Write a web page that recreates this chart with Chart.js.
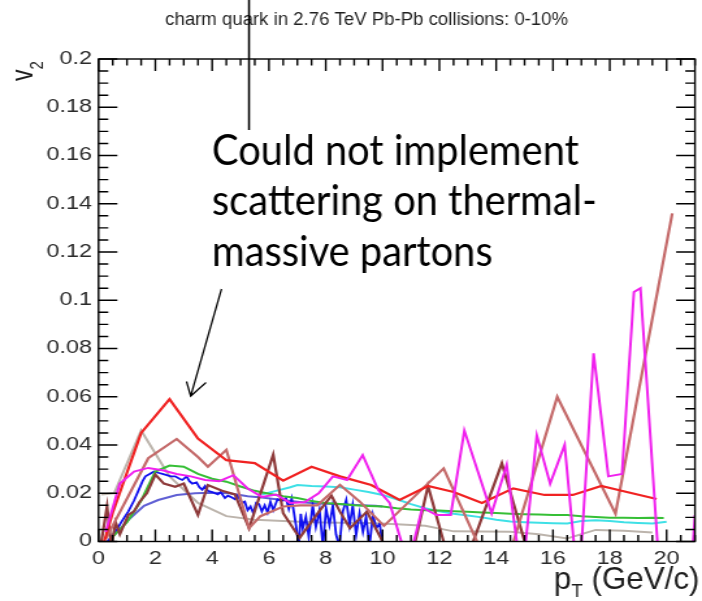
<!DOCTYPE html>
<html>
<head>
<meta charset="utf-8">
<script src="https://cdn.jsdelivr.net/npm/chart.js@4.4.0/dist/chart.umd.min.js"></script>
<style>
  html, body { margin: 0; padding: 0; background: #fff; overflow: hidden; }
  #v2chart { display: block; }
</style>
</head>
<body>
<canvas id="v2chart" width="540" height="601" style="width:702px;height:601px"></canvas>
<script>
// the original picture is a ROOT plot stretched sideways, so the canvas is drawn narrow and widened by css
const SX = 702 / 540;

const chartTitle = 'charm quark in 2.76 TeV Pb-Pb collisions: 0-10%';
const noteLines = ['Could not implement', 'scattering on thermal-', 'massive partons'];

// axis ranges and tick steps
const xRange = [0, 21];
const yRange = [0, 0.2];
const xMajor = 2, xMinor = 0.5;
const yMajor = 0.02, yMinor = 0.005;

// [pT, v2]
const redPts = [[0.2, 0.0], [0.5, 0.012], [1.5, 0.045], [2.5, 0.059], [3.5, 0.0427], [4.5, 0.0337], [5.5, 0.0325],
  [6.5, 0.0252], [7.5, 0.031], [8.5, 0.027], [9.6, 0.0234], [10.6, 0.0172], [11.6, 0.023], [12.5, 0.0205],
  [13.5, 0.016], [14.6, 0.022], [15.7, 0.0193], [16.7, 0.0193], [17.7, 0.023], [18.6, 0.0205], [19.65, 0.0176]];

const rosyPts = [[0.25, 0.001], [1.75, 0.0345], [2.75, 0.0425], [3.5, 0.035], [3.85, 0.031], [4.5, 0.038],
  [5.3, 0.0055], [5.7, 0.0105], [6.5, 0.0145], [7.1, 0.015], [7.7, 0.015], [8.5, 0.0235], [9.2, 0.0165],
  [10.05, 0.0065], [12.15, 0.0303], [14.1, -0.02], [16.15, 0.060], [18.2, 0.0115], [20.2, 0.136]];

const brownPts = [[0.1, 0.0], [0.3, 0.0145], [0.45, -0.002], [0.6, 0.008], [0.75, 0.003], [1.05, 0.011],
  [1.25, 0.0125], [1.45, 0.0165], [1.7, 0.02], [2.0, 0.0277], [2.3, 0.024], [2.7, 0.0227], [3.0, 0.024],
  [3.5, 0.011], [3.85, 0.0234], [4.35, 0.021], [4.8, 0.0195], [5.3, 0.0055], [6.15, 0.036], [6.5, 0.0117],
  [7.08, 0.0015], [7.8, 0.013], [8.2, 0.019], [8.5, 0.0124], [8.85, 0.0055], [9.45, 0.0124], [10.8, -0.018],
  [11.6, 0.023], [12.6, -0.019], [14.2, 0.0324], [15.2, -0.008]];

const grayPts = [[0.1, 0.0195], [0.55, 0.02], [1.5, 0.046], [2.5, 0.027], [3.5, 0.016], [4.5, 0.0105],
  [5.5, 0.009], [6.5, 0.0085], [7.5, 0.008], [8.5, 0.0078], [9.5, 0.0077], [10.5, 0.0072], [11.5, 0.0065],
  [12.5, 0.0042], [13.5, 0.0041], [14.5, 0.004], [15.5, 0.003], [16.5, 0.0013], [17.5, 0.0048],
  [18.5, 0.0045], [19.5, 0.0037]];

const greenPts = [[0.5, 0.002], [1.0, 0.008], [1.5, 0.017], [2.0, 0.029], [2.5, 0.0315], [3.0, 0.031],
  [3.5, 0.028], [4.0, 0.026], [4.5, 0.0248], [5.0, 0.0228], [5.5, 0.021], [6.0, 0.0198], [6.5, 0.0188],
  [7.0, 0.018], [7.5, 0.0168], [8.0, 0.016], [8.5, 0.0155], [9.0, 0.015], [9.5, 0.0147], [10.0, 0.0145],
  [10.5, 0.0138], [11.0, 0.0133], [11.5, 0.013], [12.0, 0.0128], [12.5, 0.0125], [13.0, 0.0123],
  [13.5, 0.012], [14.0, 0.0118], [14.5, 0.0115], [15.0, 0.0113], [15.5, 0.0112], [16.0, 0.011],
  [16.5, 0.011], [17.0, 0.0105], [17.5, 0.0102], [18.0, 0.0098], [18.5, 0.0098], [19.0, 0.0097],
  [19.5, 0.0098], [19.9, 0.0097]];

const cyanPts = [[5.75, 0.0195], [6.25, 0.021], [6.75, 0.0225], [7.0, 0.0234], [7.5, 0.023], [8.0, 0.0228],
  [8.5, 0.0225], [9.0, 0.0215], [9.5, 0.0205], [10.0, 0.0193], [10.5, 0.0175], [11.0, 0.0155],
  [11.5, 0.0138], [12.0, 0.0125], [12.5, 0.0115], [13.0, 0.0108], [13.5, 0.01], [14.0, 0.009],
  [14.5, 0.0083], [15.0, 0.008], [15.5, 0.0078], [16.0, 0.0076], [16.5, 0.0075], [17.0, 0.0085],
  [17.5, 0.0088], [18.0, 0.0085], [18.5, 0.008], [19.0, 0.0077], [19.5, 0.0075], [20.0, 0.0082]];

const magentaPts = [[0.25, 0.004], [0.75, 0.024], [1.25, 0.029], [1.75, 0.0305], [2.25, 0.0295], [2.75, 0.028],
  [3.25, 0.027], [3.75, 0.0255], [4.25, 0.025], [4.75, 0.0275], [5.25, 0.022], [5.75, 0.0185], [6.25, 0.0195],
  [6.75, 0.016], [7.25, 0.0163], [7.75, 0.02], [8.25, 0.027], [8.75, 0.0255], [9.3, 0.0358], [9.85, 0.0213],
  [10.25, 0.016], [10.9, -0.0094], [11.4, 0.014], [11.9, 0.011], [12.4, 0.011], [12.88, 0.046],
  [13.84, 0.0117], [14.37, 0.0317], [14.9, -0.016], [15.43, 0.044], [15.9, 0.024], [16.41, 0.040],
  [16.9, -0.021], [17.43, 0.078], [17.95, 0.027], [18.43, 0.028], [18.85, 0.1034], [19.08, 0.105],
  [20.3, -0.11], [21.0, 0.011]];

const bluePts = [[0.25, -0.002], [0.45, 0.002], [0.6, 0.004], [0.8, 0.008], [1.05, 0.0125], [1.25, 0.017],
  [1.4, 0.021], [1.55, 0.025], [1.65, 0.027], [1.8, 0.028], [1.95, 0.029], [2.1, 0.0285], [2.25, 0.028],
  [2.4, 0.0275], [2.55, 0.027], [2.7, 0.027], [2.85, 0.026], [2.95, 0.0255], [3.1, 0.027], [3.2, 0.025],
  [3.3, 0.024], [3.45, 0.0245], [3.55, 0.0225], [3.65, 0.0215], [3.75, 0.023], [3.85, 0.021], [4.0, 0.0205],
  [4.1, 0.02], [4.2, 0.0195], [4.3, 0.0205], [4.45, 0.018], [4.55, 0.019], [4.65, 0.0185], [4.8, 0.0175],
  [4.9, 0.019], [5.05, 0.016], [5.15, 0.0165], [5.25, 0.013], [5.35, 0.0145], [5.45, 0.0117], [5.55, 0.016],
  [5.65, 0.0155], [5.75, 0.0125], [5.85, 0.015], [5.95, 0.012], [6.05, 0.0165], [6.15, 0.013], [6.3, 0.0175],
  [6.45, 0.0168], [6.6, 0.018], [6.7, 0.0135], [6.8, 0.0178], [6.95, 0.0068], [7.05, -0.002], [7.12, 0.0115],
  [7.19, 0.0054], [7.3, 0.0103], [7.4, 0.002], [7.54, 0.015], [7.65, 0.006], [7.78, 0.013], [7.9, -0.002],
  [8.01, 0.0137], [8.13, 0.0068], [8.25, 0.015], [8.36, 0.003], [8.48, -0.002], [8.6, 0.0124], [8.72, 0.0172],
  [8.84, 0.0068], [8.95, 0.015], [9.07, 0.0027], [9.19, 0.0117], [9.31, 0.004], [9.42, 0.0103],
  [9.54, -0.002], [9.66, 0.011], [9.78, 0.0055], [9.9, 0.0075], [10.0, -0.002]];

const slatePts = [[0.3, 0.0], [0.75, 0.005], [1.05, 0.009], [1.6, 0.0148], [2.1, 0.0172], [2.75, 0.0193],
  [3.4, 0.02], [4.0, 0.0202], [4.6, 0.02], [5.25, 0.0188], [5.75, 0.0182], [6.25, 0.0175], [6.75, 0.0168],
  [7.25, 0.0162], [7.75, 0.0158], [8.25, 0.0155], [8.75, 0.0153], [9.25, 0.015], [9.75, 0.0148], [10.0, 0.0145]];

function series(pts, color, width) {
    return {
        data: pts.map(p => ({x: p[0], y: p[1]})),
        borderColor: color,
        borderWidth: width,
        pointRadius: 0,
        tension: 0,
        fill: false
    };
}

// font size that makes a run of text parts (subscripts included) fill a given width
function fitRun(ctx, parts, family, baseSize, width) {
    let total = 0;
    parts.forEach(p => {
        ctx.font = (baseSize * p.rel) + 'px ' + family;
        total += ctx.measureText(p.text).width;
    });
    return baseSize * width / total;
}

// frame with inward ticks, title, axis titles and the slide annotation
const decorations = {
    id: 'decorations',
    afterDraw(chart) {
        const {ctx, chartArea: a, scales: {x, y}} = chart;

        ctx.save();
        ctx.strokeStyle = '#000';
        ctx.lineWidth = 1.4;
        ctx.strokeRect(a.left, a.top, a.right - a.left, a.bottom - a.top);
        ctx.beginPath();
        const nX = Math.round((xRange[1] - xRange[0]) / xMinor);
        const perMajorX = Math.round(xMajor / xMinor);
        for (let i = 0; i <= nX; i++) {
            const px = x.getPixelForValue(xRange[0] + i * xMinor);
            const len = i % perMajorX === 0 ? 12 : 6.5;
            ctx.moveTo(px, a.bottom); ctx.lineTo(px, a.bottom - len);
            ctx.moveTo(px, a.top); ctx.lineTo(px, a.top + len);
        }
        const nY = Math.round((yRange[1] - yRange[0]) / yMinor);
        const perMajorY = Math.round(yMajor / yMinor);
        for (let i = 0; i <= nY; i++) {
            const py = y.getPixelForValue(yRange[0] + i * yMinor);
            const len = i % perMajorY === 0 ? 14.5 : 7.5;
            ctx.moveTo(a.left, py); ctx.lineTo(a.left + len, py);
            ctx.moveTo(a.right, py); ctx.lineTo(a.right - len, py);
        }
        ctx.stroke();
        ctx.restore();

        // title, a bit taller than its stretched width suggests
        ctx.save();
        ctx.fillStyle = '#1e1e1e';
        ctx.textBaseline = 'middle';
        ctx.textAlign = 'center';
        ctx.font = '15px "Liberation Sans"';
        const tw = ctx.measureText(chartTitle).width;
        ctx.font = (15 * 310 / tw).toFixed(2) + 'px "Liberation Sans"';
        ctx.translate(282, 20);
        ctx.scale(1, 1.3);
        ctx.fillText(chartTitle, 0, 0);
        ctx.restore();

        // x axis title: p_T (GeV/c), fitted to the space it has in the picture
        ctx.save();
        ctx.fillStyle = '#1e1e1e';
        ctx.textAlign = 'left';
        ctx.textBaseline = 'alphabetic';
        const fam = '"Liberation Sans"';
        const xParts = [{text: 'p', rel: 1, dy: 0}, {text: 'T', rel: 0.6, dy: 6}, {text: ' (GeV/c)', rel: 1, dy: 0}];
        const size = fitRun(ctx, xParts, fam, 26, 112);
        ctx.translate(426, 589);
        ctx.scale(1, 1.3);
        let xt = 0;
        xParts.forEach(p => {
            ctx.font = (size * p.rel).toFixed(2) + 'px ' + fam;
            ctx.fillText(p.text, xt, p.dy);
            xt += ctx.measureText(p.text).width;
        });
        ctx.restore();

        // y axis title: v_2, rotated
        ctx.save();
        ctx.fillStyle = '#1e1e1e';
        ctx.textAlign = 'left';
        ctx.textBaseline = 'alphabetic';
        ctx.translate(24.5, 81);
        ctx.rotate(-Math.PI / 2);
        ctx.font = '23px "Liberation Sans"';
        ctx.fillText('v', 0, 0);
        const vw = ctx.measureText('v').width;
        ctx.font = '15px "Liberation Sans"';
        ctx.fillText('2', vw, 8);
        ctx.restore();

        // overlay added on the slide: not stretched, so work in screen pixels
        ctx.save();
        ctx.setTransform(1 / SX, 0, 0, 1, 0, 0);
        ctx.strokeStyle = '#000';
        ctx.lineWidth = 2;
        ctx.beginPath();
        ctx.moveTo(249, 0); ctx.lineTo(249, 130);
        ctx.stroke();

        ctx.fillStyle = '#000';
        ctx.textAlign = 'left';
        ctx.textBaseline = 'alphabetic';
        ctx.font = '40px Lato';
        const nw = ctx.measureText(noteLines[1]).width;
        ctx.font = (40 * 385 / nw).toFixed(2) + 'px Lato';
        noteLines.forEach((line, i) => {
            ctx.save();
            ctx.translate(212, [165, 215, 266][i]);
            ctx.scale(1, 1.08);
            ctx.fillText(line, 0, 0);
            ctx.restore();
        });

        ctx.lineWidth = 1.6;
        ctx.beginPath();
        ctx.moveTo(221.5, 289); ctx.lineTo(190.7, 396);
        ctx.moveTo(186.5, 381.5); ctx.lineTo(190.7, 396); ctx.lineTo(206, 382.5);
        ctx.stroke();
        ctx.restore();
    }
};

const tickFont = {family: '"Liberation Sans", Arial, sans-serif', size: 18};

new Chart(document.getElementById('v2chart'), {
    type: 'line',
    data: {
        datasets: [
            series(magentaPts, '#f021ee', 2),
            series(redPts, '#f02222', 2.2),
            series(rosyPts, '#c46a6a', 2.2),
            series(brownPts, '#8e3a3a', 2.2),
            series(greenPts, '#36bf36', 2),
            series(cyanPts, '#3fe0e6', 2),
            series(bluePts, '#1010f0', 1.8),
            series(slatePts, '#6060d4', 2),
            series(grayPts, '#bcb4ac', 2)
        ]
    },
    options: {
        responsive: false,
        animation: false,
        events: [],
        layout: {padding: {left: 0, right: 5.4, top: 59, bottom: 0}},
        plugins: {legend: {display: false}, tooltip: {enabled: false}, title: {display: false}},
        scales: {
            x: {
                type: 'linear',
                min: xRange[0],
                max: xRange[1],
                grid: {display: false, drawTicks: false},
                border: {display: false},
                ticks: {stepSize: xMajor, includeBounds: false, autoSkip: false, font: tickFont, color: '#2a2a2a', padding: 7, maxRotation: 0},
                afterFit: s => { s.height = 59.5; }
            },
            y: {
                min: yRange[0],
                max: yRange[1],
                grid: {display: false, drawTicks: false},
                border: {display: false},
                ticks: {
                    stepSize: yMajor, font: tickFont, color: '#2a2a2a', padding: 5,
                    callback: v => String(Number(v.toFixed(3)))
                },
                afterFit: s => { s.width = 75.8; }
            }
        }
    },
    plugins: [decorations]
});
</script>
</body>
</html>
